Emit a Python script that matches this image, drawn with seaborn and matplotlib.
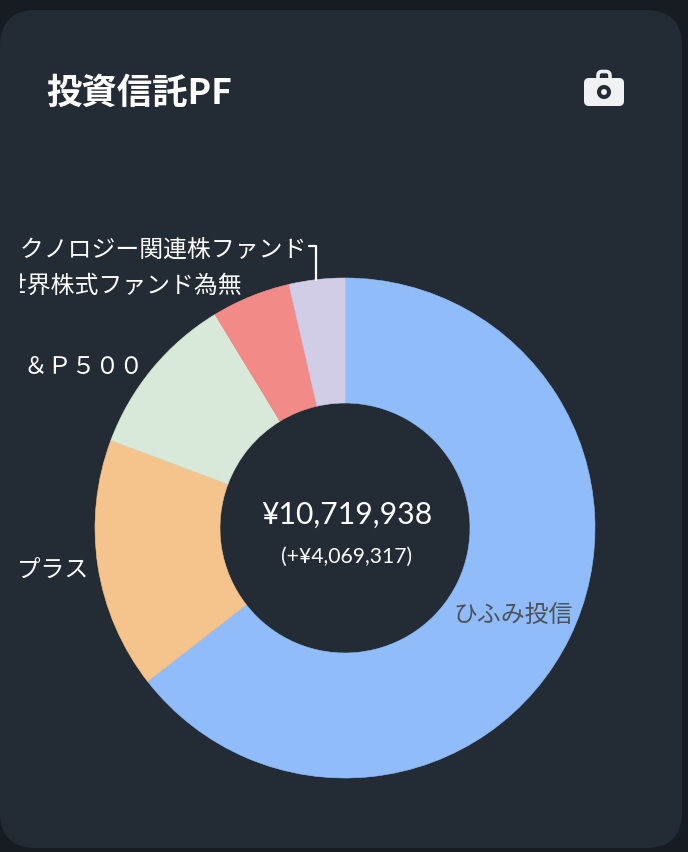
import matplotlib
matplotlib.use("Agg")
import matplotlib.pyplot as plt
from matplotlib.patches import FancyBboxPatch, Circle
from matplotlib.transforms import Bbox, TransformedBbox
import seaborn as sns

# data
funds = ["ひふみ投信", "ひふみプラス", "Ｓ＆Ｐ５００", "全世界株式ファンド為無", "テクノロジー関連株ファンド"]
amounts = [6911938, 1740000, 1135000, 547000, 386000]
colors = ["#90bdfa", "#f5c38c", "#d9e9d9", "#f28b88", "#d2cde6"]
title = "投資信託PF"
total_label = "¥10,719,938"
gain_label = "(+¥4,069,317)"

BG = "#171c22"
CARD = "#232b35"
ICON = "#eff1f3"
JP = ["Noto Sans CJK JP", "DejaVu Sans"]

sns.set_theme(style="dark")
plt.rcParams["font.family"] = JP

fig = plt.figure(figsize=(6.88, 8.52), dpi=100, facecolor=BG)
ax = fig.add_axes([0, 0, 1, 1])


def py(y):
    # y measured from the top of the picture
    return 852 - y


# donut
palette = sns.color_palette(colors)
wedges, _ = ax.pie(amounts, colors=palette, startangle=90, counterclock=False,
                   center=(345, py(528)), radius=250, frame=True,
                   wedgeprops=dict(width=125, linewidth=0.4, zorder=2))
for w in wedges:
    w.set_edgecolor(w.get_facecolor())
ax.set_xlim(0, 688)
ax.set_ylim(0, 852)
ax.set_aspect("equal")
ax.axis("off")

# card
ax.add_patch(FancyBboxPatch((36, py(848) + 36), 610, 766,
                            boxstyle="round,pad=36,rounding_size=36",
                            facecolor=CARD, edgecolor="none", zorder=1))

# title and icon
ax.text(46.5, py(93), title, color="white", fontsize=25.5, fontweight="bold",
        ha="left", va="center", zorder=5)
ax.add_patch(FancyBboxPatch((598, py(84)), 12, 12.5, boxstyle="round,pad=0,rounding_size=4",
                            facecolor="none", edgecolor=ICON, linewidth=2.6, zorder=3))
ax.add_patch(FancyBboxPatch((584, py(106)), 40, 28, boxstyle="round,pad=0,rounding_size=5",
                            facecolor=ICON, edgecolor="none", zorder=4))
ax.add_patch(Circle((604, py(92)), 5, facecolor=ICON, edgecolor=CARD, linewidth=2.9, zorder=5))

# centre text
ax.text(346.5, py(515), total_label, color="white", fontsize=21.7, family=["Lato"],
        ha="center", va="center", zorder=5)
ax.text(346.5, py(557), gain_label, color="white", fontsize=15.2, family=["Lato"],
        ha="center", va="center", zorder=5)

# labels, cut off on the left like the original
label_x = [573, 89, 143, 242, 307]
label_y = [615, 570, 367, 286, 251]
label_clip = [20, 20, 25, 20, 20]
label_colors = ["#4d5257", "white", "white", "white", "white"]
for name, x, y, left, c in zip(funds, label_x, label_y, label_clip, label_colors):
    t = ax.text(x, py(y), name, color=c, fontsize=17.2, fontweight="normal",
                ha="right", va="center", zorder=5)
    t.set_clip_box(TransformedBbox(Bbox([[left, 0], [688, 852]]), ax.transData))
    t.set_clip_on(True)

# leader line
ax.plot([309, 316, 316], [py(246), py(246), py(280)], color="white", linewidth=1.6,
        solid_joinstyle="round", zorder=5)

fig.savefig("out.png", dpi=100, facecolor=BG)
